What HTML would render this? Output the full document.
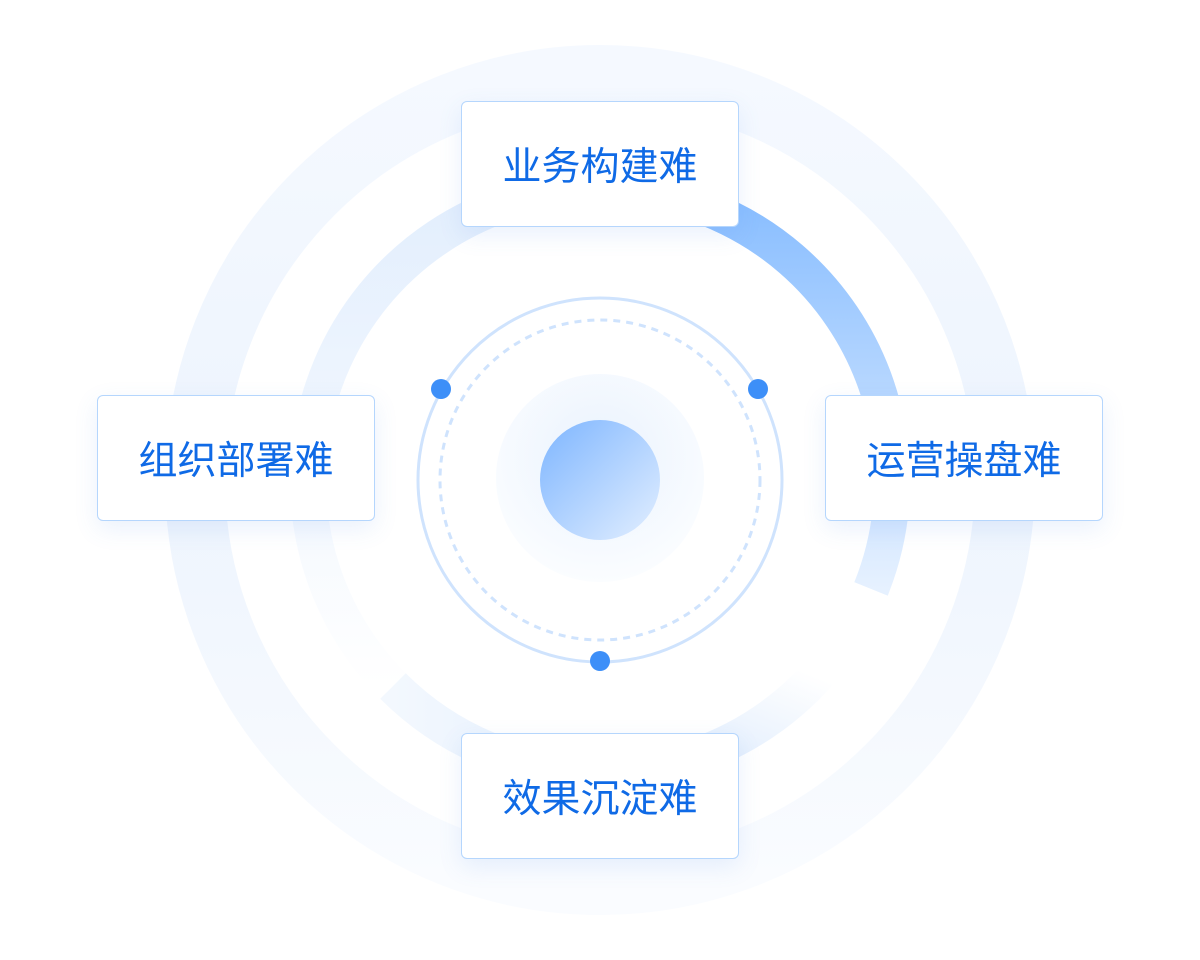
<!DOCTYPE html>
<html><head><meta charset="utf-8"><style>
html,body{margin:0;padding:0;background:#fff;}
.wrap{position:relative;width:1200px;height:960px;overflow:hidden;}
svg{position:absolute;left:0;top:0;}
.box{position:absolute;width:276px;height:124px;background:#fff;border:1.5px solid #b5d6fd;border-radius:6px;box-shadow:0 8px 24px rgba(80,140,230,0.12);display:flex;align-items:center;justify-content:center;font-family:"Liberation Sans","Noto Sans CJK SC",sans-serif;font-size:39px;color:#0f6ae6;letter-spacing:0px;}
</style></head><body><div class="wrap">
<svg width="1200" height="960" viewBox="0 0 1200 960">
<defs>
<linearGradient id="outer" x1="0" y1="0" x2="0" y2="1">
<stop offset="0" stop-color="#f5f9ff"/><stop offset="0.5" stop-color="#edf4fd"/><stop offset="1" stop-color="#fafcff"/>
</linearGradient>
<linearGradient id="tr" x1="0" y1="0" x2="0" y2="1">
<stop offset="0" stop-color="#86bcff"/><stop offset="1" stop-color="#e6f1ff"/>
</linearGradient>
<linearGradient id="br" x1="0" y1="0" x2="-0.6" y2="1">
<stop offset="0" stop-color="#ffffff"/><stop offset="1" stop-color="#c6ddfb"/>
</linearGradient>
<linearGradient id="lf" x1="0" y1="0" x2="0" y2="1">
<stop offset="0" stop-color="#e2eefd"/><stop offset="1" stop-color="#ffffff"/>
</linearGradient>
<linearGradient id="bl" x1="0" y1="0" x2="1" y2="0">
<stop offset="0" stop-color="#f3f8fe"/><stop offset="1" stop-color="#e4effd"/>
</linearGradient>
<radialGradient id="halo" cx="0.5" cy="0.4" r="0.6">
<stop offset="0" stop-color="#e9f2fe"/><stop offset="1" stop-color="#fbfdff"/>
</radialGradient>
<linearGradient id="core" x1="0" y1="0" x2="1" y2="1">
<stop offset="0" stop-color="#7db5ff"/><stop offset="1" stop-color="#e3efff"/>
</linearGradient>
</defs>
<circle cx="600" cy="480" r="405" fill="none" stroke="url(#outer)" stroke-width="60"/>
<path d="M600 188 A292 292 0 0 1 871 589" fill="none" stroke="url(#tr)" stroke-width="36"/>
<path d="M871 589 A292 292 0 0 1 600 772" fill="none" stroke="url(#br)" stroke-width="36"/>
<path d="M393 686 A292 292 0 0 1 600 188" fill="none" stroke="url(#lf)" stroke-width="36"/>
<path d="M600 772 A292 292 0 0 1 393 686" fill="none" stroke="url(#bl)" stroke-width="36"/>
<circle cx="600" cy="480" r="182" fill="#fff" stroke="#cfe3fd" stroke-width="3"/>
<circle cx="600" cy="480" r="160" fill="none" stroke="#cfe3fd" stroke-width="3" stroke-dasharray="7 6"/>
<circle cx="600" cy="478" r="104" fill="url(#halo)"/>
<circle cx="600" cy="480" r="60" fill="url(#core)"/>
<circle cx="441" cy="389" r="10" fill="#3d8ff8"/>
<circle cx="758" cy="389" r="10" fill="#3d8ff8"/>
<circle cx="600" cy="661" r="10" fill="#3d8ff8"/>
</svg>
<div class="box" style="left:461px;top:101px;">业务构建难</div>
<div class="box" style="left:97px;top:395px;">组织部署难</div>
<div class="box" style="left:825px;top:395px;">运营操盘难</div>
<div class="box" style="left:461px;top:733px;">效果沉淀难</div>
</div></body></html>
